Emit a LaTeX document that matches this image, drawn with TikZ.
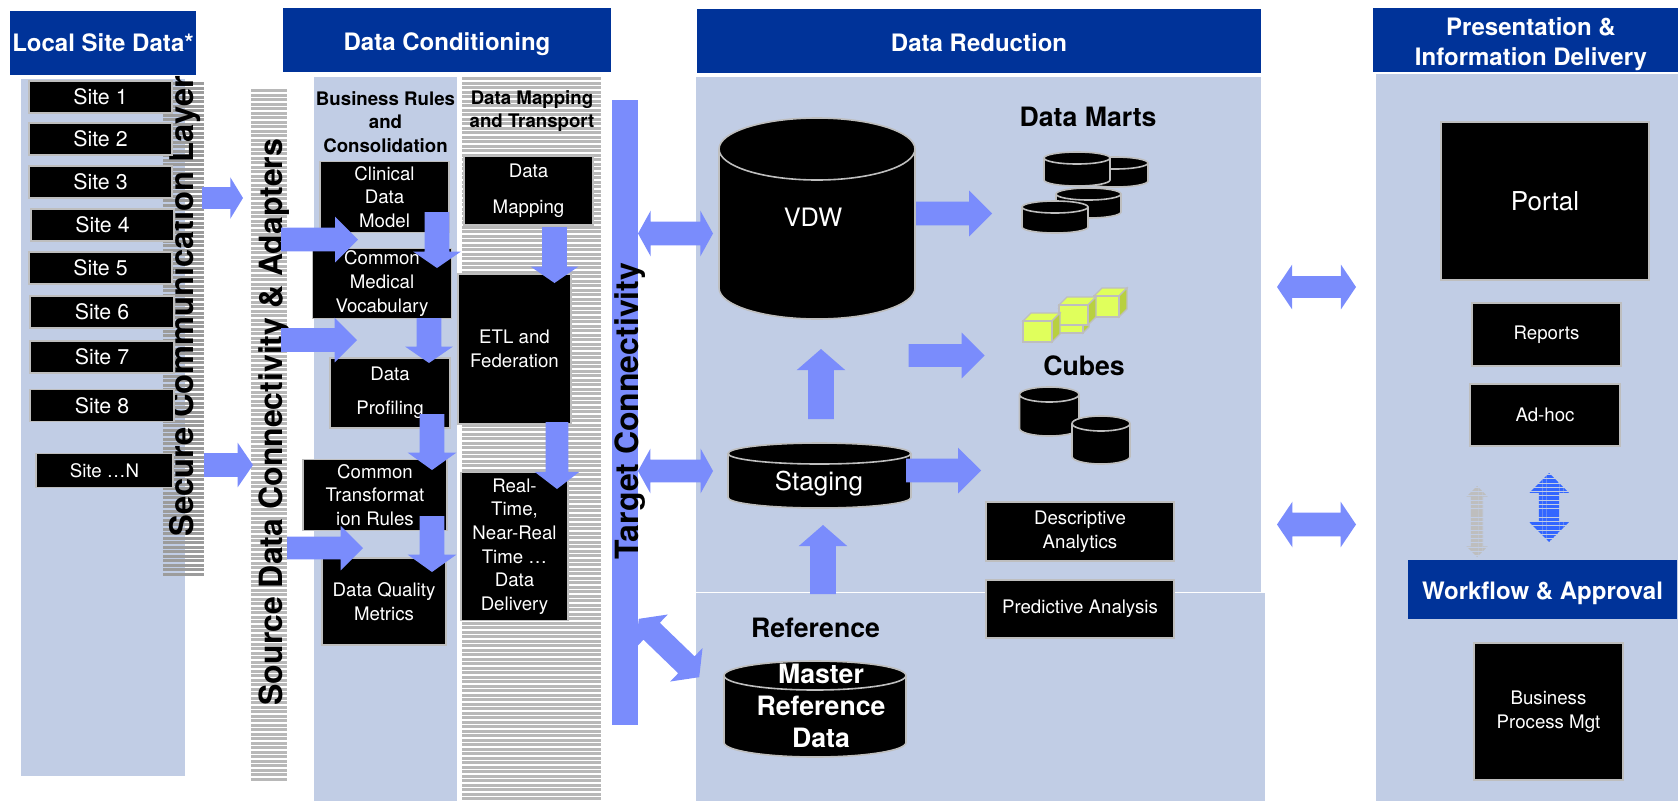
\documentclass[tikz,border=0pt]{standalone}
\usepackage{xcolor}
\usepackage{fontspec}
\setmainfont{TeX Gyre Heros}
\usepackage{tikz}
\usetikzlibrary{shapes.arrows,patterns.meta}

\definecolor{headblue}{RGB}{0,51,153}
\definecolor{panelblue}{RGB}{193,205,229}
\definecolor{arrowblue}{RGB}{122,140,252}
\definecolor{edgegray}{RGB}{190,190,190}
\definecolor{stripegray}{RGB}{184,184,184}
\definecolor{stripeblue}{RGB}{51,102,255}
\definecolor{cubeface}{RGB}{224,255,92}
\definecolor{cubeside}{RGB}{184,208,64}

\tikzset{
  wh/.style 2 args={minimum width=#1*0.75pt,minimum height=#2*0.75pt},
  headtext/.style={text=white,inner sep=0pt,align=center,font=\fontsize{18}{22.5}\selectfont\bfseries},
  blackbox/.style={rectangle,fill=black,draw=edgegray,line width=1pt,text=white,inner sep=0pt,outer sep=0pt,align=center,font=\fontsize{14}{17.7}\selectfont},
  sitebox/.style={blackbox,font=\fontsize{16}{18}\selectfont},
  drumtext/.style={text=white,inner sep=0pt,align=center},
  drumedge/.style={fill=black,draw=edgegray,line width=1.2pt},
  midtitle/.style={inner sep=0pt,align=center,font=\fontsize{14}{17.5}\selectfont\bfseries},
  bigtitle/.style={inner sep=0pt,align=center,font=\fontsize{20}{24}\selectfont\bfseries},
  sidetitle/.style={inner sep=0pt,rotate=90,font=\fontsize{24}{28}\selectfont\bfseries},
  stripes/.style={pattern={Lines[angle=0,distance=3.2pt,line width=2.5pt]},pattern color=#1},
  blockarrow/.style n args={4}{single arrow,fill=arrowblue,inner sep=#2*0.375pt,outer sep=0pt,minimum height=#1*0.75pt,single arrow head extend={(#3-#2)*0.375pt},single arrow tip angle=#4,anchor=tail},
  bothways/.style n args={4}{double arrow,fill=arrowblue,inner sep=#2*0.375pt,outer sep=0pt,minimum height=#1*0.75pt,double arrow head extend={(#3-#2)*0.375pt},double arrow tip angle=#4}
}

% x, y of the front face, its width and height, depth
\newcommand{\minicube}[5]{
  \filldraw [draw=edgegray,line width=0.9pt,fill=cubeface] (#1,#2) -- ++(#5,-#5) -- ++(#3,0) -- ++(-#5,#5) -- cycle ;
  \filldraw [draw=edgegray,line width=0.9pt,fill=cubeside] (#1+#3,#2) -- ++(#5,-#5) -- ++(0,#4) -- ++(-#5,#5) -- cycle ;
  \filldraw [draw=edgegray,line width=0.9pt,fill=cubeface] (#1,#2) rectangle ++(#3,#4) ;
}
% left, right, top, bottom, height of the end ellipse
\newcommand{\dbdrum}[5]{
  \path [drumedge] (#1,#3+#5) -- (#1,#4-#5) arc [start angle=180,end angle=0,x radius=#2/2-#1/2,y radius=#5] -- (#2,#3+#5) arc [start angle=0,end angle=-180,x radius=#2/2-#1/2,y radius=#5] arc [start angle=180,end angle=0,x radius=#2/2-#1/2,y radius=#5] ;
}
% left, top, right, bottom, colour
\newcommand{\stripecol}[5]{
  \pgfmathsetmacro{\ynext}{#2+4.5}
  \foreach \ystripe in {#2,\ynext,...,#4} { \fill [#5] (#1,\ystripe) rectangle (#3,\ystripe+3.3) ; }
}

\begin{document}
\begin{tikzpicture}[x=0.75pt,y=0.75pt,yscale=-1,xscale=1]
\useasboundingbox (0,0) rectangle (1678,801);

%Panels
\fill [panelblue] (21,79) rectangle (185,776) ;
\fill [panelblue] (314,77) rectangle (457,801) ;
\fill [panelblue] (696,77) rectangle (1261,592) ;
\fill [panelblue] (696,593) rectangle (1265,801) ;
\fill [panelblue] (1376,74) rectangle (1678,801) ;

%Striped columns
\stripecol{163}{82}{204}{576}{stripegray!85!black}
\stripecol{251}{89}{287}{781}{stripegray}
\stripecol{462}{77}{601}{798}{stripegray}
\fill [arrowblue] (612,100) rectangle (638,725) ;

%Headers
\fill [headblue] (10,11) rectangle (196,75) ;
\fill [headblue] (283,8) rectangle (611,72) ;
\fill [headblue] (697,9) rectangle (1261,73) ;
\fill [headblue] (1373,8) rectangle (1678,72) ;
\fill [headblue] (1408,560) rectangle (1677,619) ;

% Text Node
\node [headtext] (localhead) at (103,43) {Local Site Data*};
\node [headtext] (condhead) at (447,44) {Data Conditioning};
\node [headtext] (reducehead) at (979,42.5) {Data Reduction};
\node [headtext] (presenthead) at (1531,44) {Presentation \&\\Information Delivery};
\node [headtext] (workflowhead) at (1542.5,593) {Workflow \& Approval};

% Side titles
\node [sidetitle,font=\fontsize{24.5}{28}\selectfont\bfseries] (securetitle) at (185,306) {Secure Communication Layer};
\node [sidetitle] (sourcetitle) at (274,422) {Source Data Connectivity \& Adapters};

% Sites
\node [sitebox,wh={143}{32}] (site1) at (100.5,97) {Site 1};
\node [sitebox,wh={143}{32}] (site2) at (100.5,139) {Site 2};
\node [sitebox,wh={143}{32}] (site3) at (100.5,182) {Site 3};
\node [sitebox,wh={143}{32}] (site4) at (102.5,225) {Site 4};
\node [sitebox,wh={143}{32}] (site5) at (100.5,268) {Site 5};
\node [sitebox,wh={144}{32}] (site6) at (102,312) {Site 6};
\node [sitebox,wh={144}{32}] (site7) at (102,357) {Site 7};
\node [sitebox,wh={144}{32}] (site8) at (102,405.5) {Site 8};
\node [blackbox,wh={137}{34}] (siten) at (104.5,470.5) {Site …N};

% Data conditioning
\node [midtitle] (bizrules) at (385.5,122) {Business Rules\\and\\Consolidation};
\node [midtitle] (maptitle) at (532,111) {Data Mapping\\and Transport};
\node [blackbox,wh={129}{71}] (clinical) at (384.5,197) {Clinical\\Data\\Model};
\node [blackbox,wh={139}{70}] (vocab) at (382,283.5) {Common\\Medical\\Vocabulary};
\node [blackbox,wh={120}{70}] (profiling) at (390,393) {Data\\[7.5pt]Profiling};
\node [blackbox,wh={144}{71}] (transform) at (375,495) {Common\\Transformat\\ion Rules};
\node [blackbox,wh={124}{87}] (quality) at (384,601.5) {Data Quality\\Metrics};
\node [blackbox,wh={129}{69}] (mapping) at (528.5,190.5) {Data\\[9pt]Mapping};
\node [blackbox,wh={113}{150}] (etl) at (514.5,349) {ETL and\\Federation};
\node [blackbox,wh={107}{148}] (delivery) at (514.5,546.5) {Real-\\Time,\\Near-Real\\Time …\\Data\\Delivery};

% Data reduction
\dbdrum{719}{915}{118}{319}{31}
\node [drumtext,font=\fontsize{19}{23}\selectfont] (vdw) at (813,217) {VDW};
\dbdrum{728}{911}{443}{508}{10.5}
\node [drumtext,font=\fontsize{19.5}{23}\selectfont] (staging) at (819,484) {Staging};
\dbdrum{724}{906}{661}{757}{14.5}
\node [drumtext,font=\fontsize{20}{24}\selectfont\bfseries] (masterdata) at (821,705.5) {Master\\Reference\\Data};
\node [bigtitle] (martstitle) at (1088,117) {Data Marts};
\node [bigtitle] (cubestitle) at (1084,366) {Cubes};
\node [bigtitle] (reftitle) at (815.5,628) {Reference};
\dbdrum{1082}{1148}{157}{187}{6}
\dbdrum{1044}{1110}{152}{186}{6}
\dbdrum{1056}{1121}{188}{218}{6}
\dbdrum{1022}{1088}{201}{233}{6}
\dbdrum{1019.5}{1079}{387}{436}{7.5}
\dbdrum{1072}{1130}{416}{464}{7.5}
\node [blackbox,wh={188}{59}] (descriptive) at (1080,531.5) {Descriptive\\Analytics};
\node [blackbox,wh={188}{58}] (predictive) at (1080,609) {Predictive Analysis};

%Cubes
\minicube{1059}{308}{24}{25}{6}
\minicube{1094}{296}{25}{21}{8}
\minicube{1059}{305}{29}{20}{8}
\minicube{1023}{321}{29}{21}{8}

% Presentation
\node [blackbox,wh={208}{158},font=\fontsize{19.5}{23}\selectfont] (portal) at (1545,201) {Portal};
\node [blackbox,wh={149}{63}] (reports) at (1546.5,334.5) {Reports};
\node [blackbox,wh={150}{62}] (adhoc) at (1545,415) {Ad-hoc};
\node [blackbox,wh={149}{137}] (bpm) at (1548.5,711.5) {Business\\Process Mgt};

%Block arrows
\node [blockarrow={41}{21}{41}{117}] (siteflow1) at (202,198) {};
\node [blockarrow={49}{23}{44}{111}] (siteflow2) at (204,465) {};
\node [blockarrow={77}{23}{45}{90}] (srcflow1) at (281,239.5) {};
\node [blockarrow={76}{23}{44}{90}] (srcflow2) at (281,340) {};
\node [blockarrow={76}{22}{44}{90}] (srcflow3) at (287,548) {};
\node [blockarrow={56}{24}{47}{111},rotate=-90] (ruleflow1) at (437,212) {};
\node [blockarrow={45}{24}{47}{111},rotate=-90] (ruleflow2) at (429,318) {};
\node [blockarrow={56}{24}{48}{109},rotate=-90] (ruleflow3) at (432,414) {};
\node [blockarrow={56}{24}{48}{109},rotate=-90] (ruleflow4) at (432,516) {};
\node [blockarrow={56}{24}{47}{111},rotate=-90] (mapflow1) at (554.5,227) {};
\node [blockarrow={67}{22}{44}{105},rotate=-90] (mapflow2) at (557,422) {};
\node [blockarrow={76}{23}{45}{90}] (vdwflow) at (916,213.5) {};
\node [blockarrow={76}{22}{45}{90}] (cubeflow) at (908.5,355.5) {};
\node [blockarrow={75}{23}{45}{90}] (stageflow) at (906,470.5) {};
\node [blockarrow={70}{25}{48}{98},rotate=90] (vdwup) at (821,419) {};
\node [blockarrow={69}{25}{48}{98},rotate=90] (stageup) at (823,594) {};
\node [bothways={75}{23}{45}{122}] (vdwlink) at (675.5,233.5) {};
\node [bothways={75}{22}{44}{122}] (stagelink) at (675.5,471) {};
\node [bothways={84}{23}{46}{105},rotate=-44] (masterlink) at (669,648) {};
\node [bothways={79}{21}{44}{112}] (toplink) at (1316.5,287) {};
\node [bothways={79}{23}{45}{112}] (lowlink) at (1316.5,524.5) {};
\node [bothways={71}{9}{18}{90},rotate=90,fill=none,stripes=edgegray] (grayflow) at (1477,521.5) {};
\node [bothways={69}{20}{39}{90},rotate=90,fill=none,stripes=stripeblue] (blueflow) at (1549,507.5) {};

% Target title on top of its arrows
\node [sidetitle] (targettitle) at (630,411) {Target Connectivity};

\end{tikzpicture}
\end{document}
